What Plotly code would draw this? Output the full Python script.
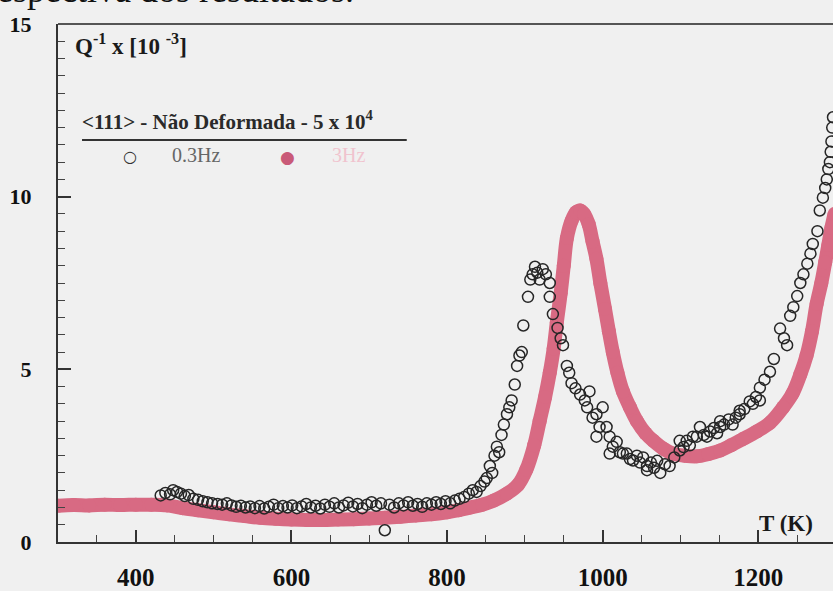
import plotly.graph_objects as go

# Internal friction Q^-1 (x10^-3) vs temperature, <111> undeformed sample
# 3 Hz series (filled pink band)
t_3hz = [300, 320, 340, 360, 380, 400, 420, 440, 460, 480, 500, 520, 540, 560, 580,
         600, 620, 640, 660, 680, 700, 720, 740, 760, 780, 800, 815, 830, 845, 860,
         877, 891, 902, 912, 919, 926, 932, 937, 941, 946, 950, 954, 960, 966, 971,
         976, 982, 987, 992, 997, 1003, 1008, 1013, 1019, 1026, 1035, 1044, 1055, 1065, 1078,
         1090, 1105, 1121, 1136, 1151, 1165, 1180, 1198, 1215, 1232, 1244, 1254, 1262, 1269, 1275,
         1281, 1286, 1290, 1294, 1298]
q_3hz = [1.05, 1.07, 1.06, 1.08, 1.07, 1.08, 1.08, 1.06, 0.98, 0.92, 0.86, 0.80, 0.75, 0.70, 0.67,
         0.65, 0.64, 0.64, 0.65, 0.66, 0.68, 0.70, 0.73, 0.77, 0.80, 0.86, 0.92, 1.00, 1.08, 1.20,
         1.40, 1.65, 2.10, 2.80, 3.50, 4.20, 4.90, 5.60, 6.35, 7.20, 8.00, 8.80, 9.30, 9.55, 9.60,
         9.50, 9.20, 8.70, 8.20, 7.50, 6.75, 6.10, 5.50, 4.90, 4.36, 3.90, 3.50, 3.15, 2.93, 2.70,
         2.56, 2.50, 2.48, 2.55, 2.65, 2.80, 2.98, 3.20, 3.45, 3.90, 4.30, 4.85, 5.40, 6.10, 6.90,
         7.50, 8.10, 8.60, 9.10, 9.50]

# 0.3 Hz series (open circles)
t_03hz = [432, 438, 444, 448, 453, 458, 463, 468, 474, 480, 486, 492, 498, 505, 511,
          517, 523, 529, 535, 541, 547, 553, 559, 565, 571, 577, 583, 589, 595, 601,
          607, 613, 619, 625, 631, 637, 643, 649, 655, 661, 667, 673, 679, 685, 691,
          697, 703, 709, 715, 720, 726, 732, 738, 744, 750, 756, 762, 768, 774, 780,
          786, 792, 798, 804, 810, 816, 822, 828, 833, 838, 843, 848, 851, 855, 858,
          861, 864, 867, 870, 873, 877, 880, 883, 887, 890, 893, 896, 898, 904, 907,
          910, 913, 916, 919, 923, 927, 932, 932, 936, 942, 946, 949, 954, 957, 960,
          965, 971, 977, 980, 983, 987, 992, 992, 996, 1000, 1005, 1009, 1009, 1013, 1018,
          1022, 1026, 1031, 1035, 1039, 1044, 1048, 1052, 1057, 1057, 1062, 1066, 1070, 1074, 1080,
          1086, 1092, 1099, 1099, 1104, 1108, 1112, 1116, 1121, 1125, 1130, 1134, 1138, 1143, 1147,
          1151, 1151, 1156, 1162, 1167, 1171, 1176, 1176, 1182, 1189, 1193, 1197, 1202, 1202, 1208,
          1215, 1220, 1228, 1233, 1237, 1241, 1245, 1250, 1254, 1258, 1263, 1267, 1270, 1276, 1279,
          1283, 1286, 1288, 1290, 1292, 1293, 1294, 1295, 1296]
q_03hz = [1.35, 1.42, 1.38, 1.50, 1.45, 1.40, 1.33, 1.36, 1.25, 1.22, 1.18, 1.15, 1.12, 1.10, 1.08,
          1.12, 1.06, 1.02, 1.05, 1.00, 1.03, 0.98, 1.04, 0.97, 1.02, 1.08, 0.98, 1.04, 1.00, 1.06,
          0.98, 1.03, 1.10, 1.00, 1.05, 0.97, 1.08, 1.02, 1.12, 1.00, 1.06, 1.14, 1.03, 1.10, 0.98,
          1.08, 1.15, 1.05, 1.12, 0.34, 1.08, 1.00, 1.12, 1.06, 1.15, 1.05, 1.10, 1.02, 1.12, 1.08,
          1.15, 1.10, 1.18, 1.12, 1.20, 1.25, 1.30, 1.40, 1.50, 1.45, 1.62, 1.75, 1.85, 2.20, 2.00,
          2.50, 2.76, 2.60, 3.10, 3.40, 3.70, 3.90, 4.10, 4.56, 5.10, 5.40, 5.50, 6.27, 7.10, 7.60,
          7.75, 7.97, 7.80, 7.60, 7.90, 7.75, 7.50, 7.10, 6.60, 6.20, 5.90, 5.70, 5.10, 4.90, 4.60,
          4.45, 4.27, 4.10, 3.90, 4.36, 3.60, 3.70, 3.05, 3.33, 3.90, 3.33, 3.05, 2.56, 2.76, 2.90,
          2.60, 2.56, 2.56, 2.40, 2.36, 2.50, 2.30, 2.45, 2.20, 2.08, 2.30, 2.15, 2.35, 2.00, 2.25,
          2.20, 2.45, 2.65, 2.93, 2.75, 2.93, 2.80, 3.05, 3.05, 3.33, 3.10, 3.05, 3.20, 3.30, 3.15,
          3.33, 3.50, 3.40, 3.55, 3.40, 3.60, 3.70, 3.80, 3.85, 4.07, 4.00, 4.20, 4.10, 4.47, 4.70,
          4.93, 5.30, 6.18, 5.90, 5.70, 6.55, 6.80, 7.12, 7.50, 7.75, 8.06, 8.35, 8.63, 9.00, 9.60,
          9.97, 10.25, 10.50, 10.80, 11.00, 11.30, 11.60, 12.00, 12.30]

x_ticks = [400, 600, 800, 1000, 1200]
y_ticks = [0, 5, 10, 15]

SERIF = "Liberation Serif"
BG = "#f0f0f0"
PINK = "#d86a83"
INK = "#262626"

fig = go.Figure()

fig.add_trace(go.Scatter(
    x=t_3hz, y=q_3hz, name="3Hz", mode="lines+markers",
    line=dict(color=PINK, width=14, shape="spline"),
    marker=dict(color=PINK, size=14),
    showlegend=False,
))

fig.add_trace(go.Scatter(
    x=t_03hz, y=q_03hz, name="0.3Hz", mode="markers",
    marker=dict(symbol="circle-open", size=11, color=INK, line=dict(width=1.5)),
    showlegend=False,
))

fig.update_layout(
    width=833, height=591,
    margin=dict(l=58, r=0, t=24, b=41),
    paper_bgcolor=BG, plot_bgcolor=BG,
    font=dict(family=SERIF, color="#111"),
    xaxis=dict(
        range=[300, 1296], tickvals=x_ticks, ticktext=[str(v) for v in x_ticks],
        showgrid=False, zeroline=False,
        showline=True, linecolor="#333", linewidth=2,
        ticks="inside", ticklen=12, tickwidth=1.5, tickcolor="#333",
        minor=dict(dtick=50, tick0=300, ticks="inside", ticklen=7, tickwidth=1.2, tickcolor="#444"),
        tickfont=dict(family=SERIF, size=25, weight="bold", color="#111"),
        ticklabelstandoff=12,
    ),
    yaxis=dict(
        range=[0, 15], tickvals=y_ticks, ticktext=[str(v) for v in y_ticks],
        showgrid=False, zeroline=False,
        showline=True, linecolor="#333", linewidth=2,
        ticks="inside", ticklen=13, tickwidth=1.5, tickcolor="#333",
        minor=dict(dtick=0.5, tick0=0, ticks="inside", ticklen=7, tickwidth=1.2, tickcolor="#444"),
        tickfont=dict(family=SERIF, size=22, weight="bold", color="#111"),
        ticklabelstandoff=20,
    ),
)

# top frame line
fig.add_shape(type="line", xref="paper", yref="paper", x0=0, x1=1.01, y0=1, y1=1,
              line=dict(color="#555", width=2))

# legend header rule
fig.add_shape(type="line", xref="paper", yref="paper", x0=0.031, x1=0.450, y0=0.776, y1=0.776,
              line=dict(color="#333", width=2))

annotations = [
    # running page text above the figure
    dict(text="respectiva dos resultados.", x=-0.097, y=1.066, xanchor="left", yanchor="middle",
         font=dict(family=SERIF, size=36, color="#111")),
    dict(text="Q<sup>-1</sup>&nbsp;x&nbsp;[10&nbsp;<sup>-3</sup>]", x=0.019, y=0.960,
         xanchor="left", yanchor="middle",
         font=dict(family=SERIF, size=23, weight="bold", color="#1a1a1a")),
    dict(text="&lt;111&gt; - Não Deformada - 5 x 10<sup>4</sup>", x=0.028, y=0.814,
         xanchor="left", yanchor="middle",
         font=dict(family=SERIF, size=21, weight="bold", color="#2a2a2a")),
    dict(text="○", x=0.093, y=0.745, xanchor="center", yanchor="middle",
         font=dict(family="DejaVu Sans", size=16, color="#333")),
    dict(text="0.3Hz", x=0.1445, y=0.748, xanchor="left", yanchor="middle",
         font=dict(family=SERIF, size=20, color="#666")),
    dict(text="●", x=0.2955, y=0.743, xanchor="center", yanchor="middle",
         font=dict(family="DejaVu Sans", size=17, color="#c95a78")),
    dict(text="3Hz", x=0.351, y=0.748, xanchor="left", yanchor="middle",
         font=dict(family=SERIF, size=20, color="#f0c3ce")),
    dict(text="T (K)", x=0.939, y=0.036, xanchor="center", yanchor="middle",
         font=dict(family=SERIF, size=23, weight="bold", color="#1a1a1a")),
]
for a in annotations:
    fig.add_annotation(xref="paper", yref="paper", showarrow=False, **a)

fig.write_html("out.html")
